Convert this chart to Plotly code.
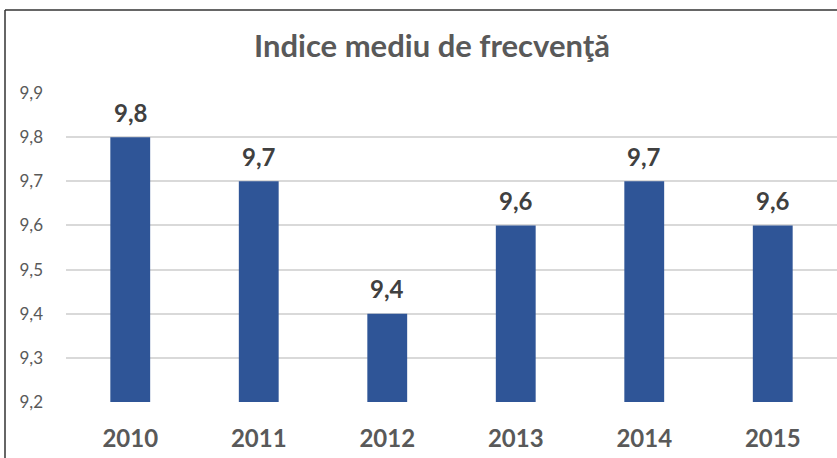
import plotly.graph_objects as go

years = ["2010", "2011", "2012", "2013", "2014", "2015"]
values = [9.8, 9.7, 9.4, 9.6, 9.7, 9.6]
y_ticks = [9.2, 9.3, 9.4, 9.5, 9.6, 9.7, 9.8, 9.9]
y_tick_labels = ["9,2", "9,3", "9,4", "9,5", "9,6", "9,7", "9,8", "9,9"]

W, H = 837, 458
ML, MR, MT, MB = 66, 0, 93, 56
pw, ph = W - ML - MR, H - MT - MB

def px_x(px):
    return (px - ML) / pw

def px_y(py):
    return (H - MB - py) / ph

fig = go.Figure(go.Bar(
    x=years,
    y=values,
    marker=dict(color="#2F5597", line=dict(width=0)),
    width=0.31,
))

# value labels above each bar (category index positions on the x axis)
for i, v in enumerate(values):
    fig.add_annotation(
        x=i, y=v, xref="x", yref="y",
        text="<b>" + f"{v:.1f}".replace(".", ",") + "</b>",
        showarrow=False, yanchor="middle", yshift=25,
        font=dict(family="Lato", size=24, color="#404040"),
    )

fig.update_layout(
    width=W, height=H,
    margin=dict(l=ML, r=MR, t=MT, b=MB),
    paper_bgcolor="white", plot_bgcolor="white",
    showlegend=False,
    title=dict(
        text="<b>Indice mediu de frecvenţă</b>",
        x=px_x(432), xref="paper", xanchor="center",
        y=1 - 46 / H, yref="container", yanchor="middle",
        font=dict(family="Lato", size=31, color="#595959"),
    ),
    xaxis=dict(
        type="category",
        range=[-0.5, len(years) - 0.5],
        showgrid=False, showline=False, ticks="",
        tickfont=dict(family="Lato", size=24, color="#595959", weight="bold"),
        ticklabelstandoff=20,
    ),
    yaxis=dict(
        range=[9.2, 9.9],
        tickvals=y_ticks, ticktext=y_tick_labels,
        showgrid=True, gridcolor="#D9D9D9", gridwidth=1.5,
        zeroline=False, showline=False, ticks="",
        tickfont=dict(family="Lato", size=17, color="#595959"),
        ticklabelstandoff=22,
    ),
    shapes=[
        dict(type="line", xref="paper", yref="paper",
             x0=px_x(5), x1=px_x(5), y0=px_y(10), y1=px_y(H + 5),
             line=dict(color="#333333", width=1.5)),
        dict(type="line", xref="paper", yref="paper",
             x0=px_x(5), x1=px_x(W + 5), y0=px_y(10), y1=px_y(10),
             line=dict(color="#333333", width=1.5)),
    ],
)

fig.write_html("out.html")
